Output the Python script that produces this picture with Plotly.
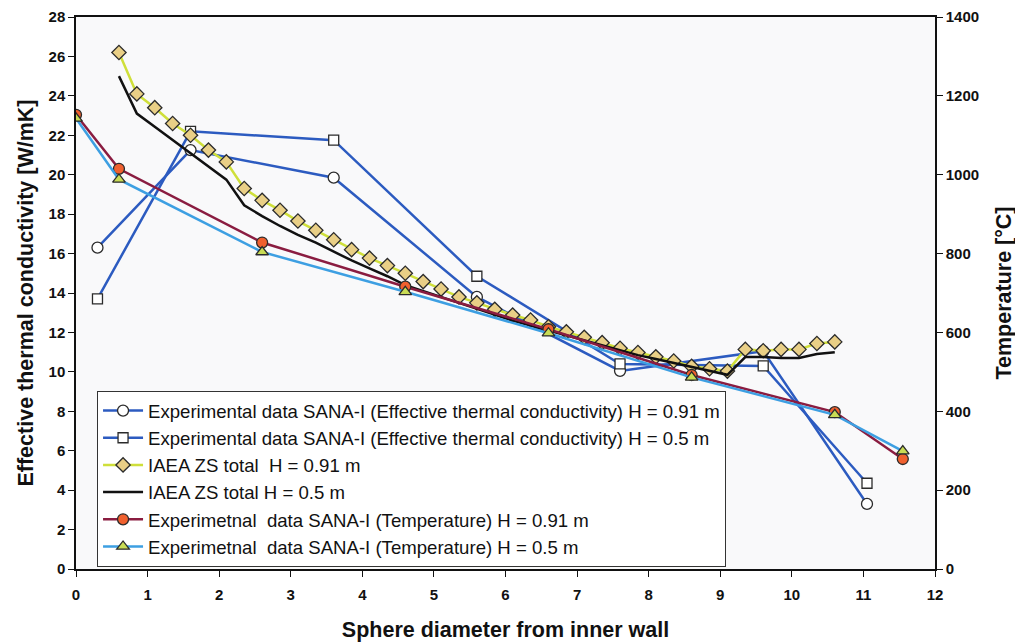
import plotly.graph_objects as go

# ---- data ----
exp_x = [0.3, 1.6, 3.6, 5.6, 7.6, 9.6, 11.05]
exp_k_091 = [16.3, 21.25, 19.85, 13.8, 10.05, 11.05, 3.3]
exp_k_05 = [13.7, 22.2, 21.75, 14.85, 10.4, 10.3, 4.35]

iaea_x = [0.6, 0.85, 1.1, 1.35, 1.6, 1.85, 2.1, 2.35, 2.6, 2.85, 3.1, 3.35, 3.6, 3.85,
          4.1, 4.35, 4.6, 4.85, 5.1, 5.35, 5.6, 5.85, 6.1, 6.35, 6.6, 6.85, 7.1, 7.35,
          7.6, 7.85, 8.1, 8.35, 8.6, 8.85, 9.1, 9.35, 9.6, 9.85, 10.1, 10.35, 10.6]
iaea_k_091 = [26.2, 24.1, 23.4, 22.6, 22.0, 21.25, 20.65, 19.3, 18.7, 18.2, 17.65, 17.18, 16.7, 16.2,
              15.77, 15.39, 15.0, 14.58, 14.2, 13.8, 13.5, 13.17, 12.88, 12.63, 12.29, 12.03, 11.75, 11.48,
              11.2, 10.98, 10.76, 10.55, 10.28, 10.16, 10.04, 11.14, 11.07, 11.14, 11.14, 11.44, 11.52]
iaea_k_05 = [25.0, 23.1, 22.43, 21.76, 21.1, 20.42, 19.75, 18.45, 17.9, 17.4, 16.95, 16.55, 16.1, 15.65,
             15.25, 14.85, 14.4, 14.1, 13.8, 13.5, 13.2, 12.9, 12.6, 12.35, 12.1, 11.85, 11.6, 11.35,
             11.1, 10.85, 10.65, 10.45, 10.25, 10.05, 9.85, 10.75, 10.75, 10.7, 10.7, 10.9, 11.0]

temp_x = [0.0, 0.6, 2.6, 4.6, 6.6, 8.6, 10.6, 11.55]
temp_091 = [1152, 1015, 828, 716, 608, 492, 398, 279]
temp_05 = [1143, 988, 804, 703, 598, 486, 391, 299]

FONT = "Liberation Sans, Arial, sans-serif"
OUT = "#2b2b2b"

fig = go.Figure()

fig.add_trace(go.Scatter(
    x=exp_x, y=exp_k_091, mode="lines+markers",
    name="Experimental data SANA-I (Effective thermal conductivity) H = 0.91 m",
    line=dict(color="#2c5bc0", width=2.5),
    marker=dict(symbol="circle", size=11, color="white", line=dict(color=OUT, width=1.3))))
fig.add_trace(go.Scatter(
    x=exp_x, y=exp_k_05, mode="lines+markers",
    name="Experimental data SANA-I (Effective thermal conductivity) H = 0.5 m",
    line=dict(color="#2c5bc0", width=2.5),
    marker=dict(symbol="square", size=10, color="white", line=dict(color=OUT, width=1.3))))
fig.add_trace(go.Scatter(
    x=iaea_x, y=iaea_k_091, mode="lines+markers",
    name="IAEA ZS total  H = 0.91 m",
    line=dict(color="#cfdf3a", width=2.5),
    marker=dict(symbol="diamond", size=11, color="#e9cf86", line=dict(color=OUT, width=1.3))))
fig.add_trace(go.Scatter(
    x=iaea_x, y=iaea_k_05, mode="lines",
    name="IAEA ZS total H = 0.5 m",
    line=dict(color="#111111", width=2.5)))
fig.add_trace(go.Scatter(
    x=temp_x, y=temp_091, mode="lines+markers", yaxis="y2",
    name="Experimetnal  data SANA-I (Temperature) H = 0.91 m",
    line=dict(color="#8a1c40", width=2.5),
    marker=dict(symbol="circle", size=11, color="#f0602e", line=dict(color=OUT, width=1.3))))
fig.add_trace(go.Scatter(
    x=temp_x, y=temp_05, mode="lines+markers", yaxis="y2",
    name="Experimetnal  data SANA-I (Temperature) H = 0.5 m",
    line=dict(color="#3d9fe2", width=2.5),
    marker=dict(symbol="triangle-up", size=11, color="#c9dc55", line=dict(color=OUT, width=1.3))))

tickfont = dict(family=FONT, size=15, color="#111", weight="bold")
titlefont = dict(family=FONT, size=21.5, color="#111", weight="bold")

fig.update_layout(
    width=1015, height=634,
    margin=dict(l=68, r=88, t=9, b=73),
    paper_bgcolor="white", plot_bgcolor="#f9f9fa",
    font=dict(family=FONT, color="#111"),
    showlegend=True,
    legend=dict(x=0.0245, y=0.3225, xanchor="left", yanchor="top",
                bgcolor="white", bordercolor="#333", borderwidth=1,
                font=dict(family=FONT, size=18.6, color="#111"),
                tracegroupgap=0, itemwidth=40),
    xaxis=dict(range=[0, 12], dtick=1, tick0=0, showgrid=False, zeroline=False,
               automargin=False,
               showline=True, linecolor="#111", linewidth=1.5, mirror=True,
               ticks="outside", ticklen=6, tickcolor="#111", ticklabelstandoff=5,
               tickfont=tickfont,
               title=dict(text="Sphere diameter from inner wall", font=titlefont, standoff=22)),
    yaxis=dict(range=[0, 28], dtick=2, tick0=0, showgrid=False, zeroline=False,
               automargin=False,
               showline=True, linecolor="#111", linewidth=1.5,
               ticks="outside", ticklen=6, tickcolor="#111",
               tickfont=tickfont,
               title=dict(text="Effective thermal conductivity [W/mK]", font=titlefont, standoff=9)),
    yaxis2=dict(range=[0, 1400], dtick=200, tick0=0, overlaying="y", side="right",
                automargin=False,
                showgrid=False, zeroline=False,
                showline=True, linecolor="#111", linewidth=1.5,
                ticks="outside", ticklen=6, tickcolor="#111",
                tickfont=tickfont,
                title=dict(text="Temperature [°C]", font=titlefont, standoff=18)),
)

fig.write_html("out.html")
